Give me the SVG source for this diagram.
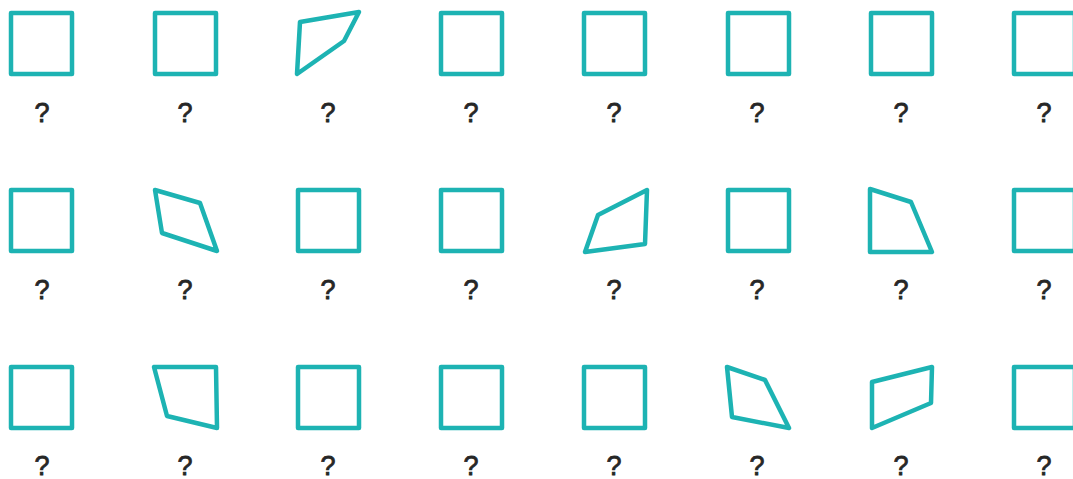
<svg xmlns="http://www.w3.org/2000/svg" width="1073" height="479" viewBox="0 0 1073 479">
<style>
.s{fill:none;stroke:#1db3b3;stroke-width:4.5;stroke-linejoin:round}
.q{font-family:"Liberation Sans",Arial,sans-serif;font-size:27px;fill:#262626;stroke:#262626;stroke-width:0.8;text-anchor:middle}
</style>
<rect width="1073" height="479" fill="#fff"/>
<g id="r1c1"><rect class="s" x="11" y="13" width="61" height="61"/><text class="q" x="42" y="122">?</text></g>
<g id="r1c2"><rect class="s" x="155" y="13" width="61" height="61"/><text class="q" x="185" y="122">?</text></g>
<g id="r1c3"><polygon class="s" points="300,22 359,12 344,41 297,74"/><text class="q" x="328" y="122">?</text></g>
<g id="r1c4"><rect class="s" x="441" y="13" width="61" height="61"/><text class="q" x="471" y="122">?</text></g>
<g id="r1c5"><rect class="s" x="584" y="13" width="61" height="61"/><text class="q" x="614" y="122">?</text></g>
<g id="r1c6"><rect class="s" x="728" y="13" width="61" height="61"/><text class="q" x="757" y="122">?</text></g>
<g id="r1c7"><rect class="s" x="871" y="13" width="61" height="61"/><text class="q" x="901" y="122">?</text></g>
<g id="r1c8"><rect class="s" x="1014" y="13" width="61" height="61"/><text class="q" x="1044" y="122">?</text></g>

<g id="r2c1"><rect class="s" x="11" y="190" width="61" height="61"/><text class="q" x="42" y="299">?</text></g>
<g id="r2c2"><polygon class="s" points="155,190 200,203 217,251 162,233"/><text class="q" x="185" y="299">?</text></g>
<g id="r2c3"><rect class="s" x="298" y="190" width="61" height="61"/><text class="q" x="328" y="299">?</text></g>
<g id="r2c4"><rect class="s" x="441" y="190" width="61" height="61"/><text class="q" x="471" y="299">?</text></g>
<g id="r2c5"><polygon class="s" points="598,215 647,190 645,244 585,252"/><text class="q" x="614" y="299">?</text></g>
<g id="r2c6"><rect class="s" x="728" y="190" width="61" height="61"/><text class="q" x="757" y="299">?</text></g>
<g id="r2c7"><polygon class="s" points="870,189 911,202 932,252 870,252"/><text class="q" x="901" y="299">?</text></g>
<g id="r2c8"><rect class="s" x="1014" y="190" width="61" height="61"/><text class="q" x="1044" y="299">?</text></g>

<g id="r3c1"><rect class="s" x="11" y="367" width="61" height="61"/><text class="q" x="42" y="475">?</text></g>
<g id="r3c2"><polygon class="s" points="154,367 216,367 217,428 167,416"/><text class="q" x="185" y="475">?</text></g>
<g id="r3c3"><rect class="s" x="298" y="367" width="61" height="61"/><text class="q" x="328" y="475">?</text></g>
<g id="r3c4"><rect class="s" x="441" y="367" width="61" height="61"/><text class="q" x="471" y="475">?</text></g>
<g id="r3c5"><rect class="s" x="584" y="367" width="61" height="61"/><text class="q" x="614" y="475">?</text></g>
<g id="r3c6"><polygon class="s" points="727,367 765,380 789,428 732,417"/><text class="q" x="757" y="475">?</text></g>
<g id="r3c7"><polygon class="s" points="872,382 932,367 931,403 872,428"/><text class="q" x="901" y="475">?</text></g>
<g id="r3c8"><rect class="s" x="1014" y="367" width="61" height="61"/><text class="q" x="1044" y="475">?</text></g>
</svg>
